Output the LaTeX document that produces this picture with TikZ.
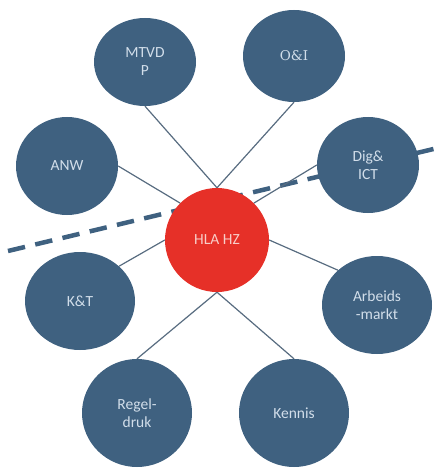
\documentclass[tikz,border=0pt]{standalone}
\usepackage{fontspec}
\setmainfont{Carlito}
\newfontfamily\slabfont{DejaVu Serif}
\usetikzlibrary{shapes.geometric,backgrounds}
\definecolor{bub}{RGB}{63,97,128}
\definecolor{hub}{RGB}{230,48,40}
\definecolor{bubtxt}{RGB}{210,222,234}
\definecolor{hubtxt}{RGB}{248,205,200}
\definecolor{link}{RGB}{88,108,128}
\tikzset{
  bubble/.style={ellipse, fill=bub, draw=none, inner sep=0pt, text=bubtxt, align=center,
    font=\fontsize{15.5}{18}\selectfont},
  hubnode/.style={circle, fill=hub, draw=none, inner sep=0pt, minimum size=104pt, text=hubtxt,
    font=\fontsize{15.5}{18}\selectfont},
  linkline/.style={draw=link, line width=1.2pt},
  cutline/.style={draw=bub, line width=4.5pt, dash pattern=on 17.5pt off 10.5pt}
}
\begin{document}
\begin{tikzpicture}[x=1pt,y=-1pt]
\useasboundingbox (0,0) rectangle (438,468);
\node[hubnode] (hla) at (217,240) {HLA HZ};
\node[bubble, minimum width=102pt, minimum height=88pt] (mtvd) at (145,62) {MTVD\\P};
\node[bubble, minimum width=102pt, minimum height=92pt, font=\slabfont\fontsize{13.5}{18}\selectfont] (oi) at (294,56) {O\&I};
\node[bubble, minimum width=102pt, minimum height=98pt] (anw) at (67,166) {ANW};
\node[bubble, minimum width=102pt, minimum height=96pt] (dig) at (368,165) {Dig\&\\ICT};
\node[bubble, minimum width=110pt, minimum height=98pt] (kt) at (80,301) {K\&T};
\node[bubble, minimum width=110pt, minimum height=98pt] (arb) at (377,305) {Arbeids\\-markt};
\node[bubble, minimum width=110pt, minimum height=108pt] (reg) at (137,413) {Regel-\\druk};
\node[bubble, minimum width=110pt, minimum height=108pt] (ken) at (294,413) {Kennis};
\coordinate (cutA) at (8,251);
\coordinate (cutB) at (446,146);
\begin{scope}[on background layer]
  \draw[cutline] (cutA) -- (cutB);
  \draw[linkline] (mtvd.south) -- (hla.north);
  \draw[linkline] (oi.south) -- (hla.north);
  \draw[linkline] (anw.east) -- (hla.north west);
  \draw[linkline] (dig.west) -- (hla.north east);
  \draw[linkline] (kt.north east) -- (hla.west);
  \draw[linkline] (arb.north west) -- (hla.east);
  \draw[linkline] (reg.north) -- (hla.south);
  \draw[linkline] (ken.north) -- (hla.south);
\end{scope}
\end{tikzpicture}
\end{document}
